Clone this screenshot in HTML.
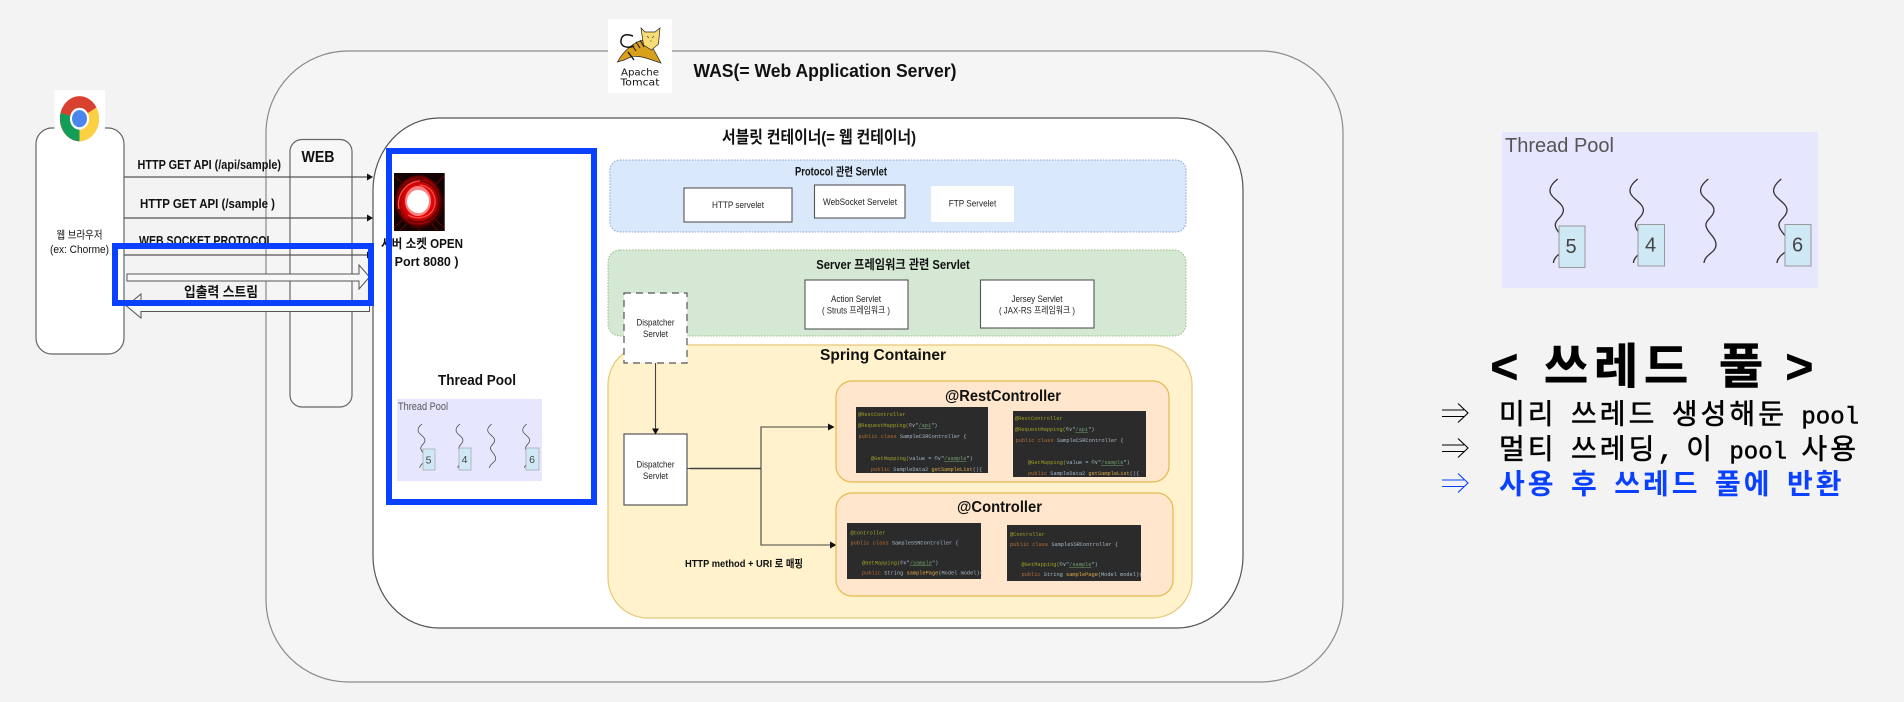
<!DOCTYPE html>
<html lang="ko">
<head>
<meta charset="utf-8">
<title>WAS Thread Pool</title>
<style>
html,body{margin:0;padding:0;background:#f3f3f3;width:1904px;height:702px;overflow:hidden}
svg{display:block;filter:blur(.3px)}
text{font-family:"Liberation Sans","Noto Sans CJK KR",sans-serif;fill:#111}
.b{font-weight:bold}
.m{text-anchor:middle}
.s{font-size:9.5px;fill:#222}
.c text{font-family:"Liberation Mono",monospace;font-size:5.3px;fill:#a9b7c6}
.c .a{fill:#a0a028}
.c .k{fill:#b86f32}
.c .g{fill:#6f9f6f;text-decoration:underline}
.c .f{fill:#e0aa45}
.ln{font-family:"Liberation Mono","Noto Sans CJK KR",monospace;font-size:28px}
.ln .p{font-size:24px;font-weight:normal;stroke-width:.5px}
</style>
</head>
<body>
<svg width="1904" height="702" viewBox="0 0 1904 702" xmlns="http://www.w3.org/2000/svg" xml:space="preserve">
<defs>
<path id="sq" d="M0 0C-5 4 -9 9 -7.3 14C-5.5 20 5.5 24 5.7 31C5.8 38 -3.5 41 -2.3 47C-1 54 8 58 7.7 66C7.4 74 -3.5 75 -4.3 84" fill="none" stroke="#333" stroke-width="1.3"/>
<radialGradient id="rg" cx="50%" cy="50%" r="50%">
<stop offset="0" stop-color="#f33"/><stop offset=".6" stop-color="#e00808"/><stop offset=".88" stop-color="#900"/><stop offset="1" stop-color="#300"/>
</radialGradient>
</defs>

<rect width="1904" height="702" fill="#f3f3f3"/>

<!-- WAS -->
<rect x="266" y="51" width="1077" height="631" rx="82" ry="82" fill="#f5f5f5" stroke="#8a8a8a" stroke-width="1.2"/>
<!-- WEB -->
<rect x="290" y="139.5" width="62" height="267.5" rx="12" fill="#f7f7f7" stroke="#666" stroke-width="1.2"/>
<text class="b m" x="318" y="162" font-size="16" textLength="33" lengthAdjust="spacingAndGlyphs">WEB</text>

<!-- browser -->
<rect x="36" y="128" width="88" height="226" rx="16" fill="#fff" stroke="#666" stroke-width="1.2"/>
<rect x="54.5" y="90" width="50.5" height="52" fill="#fff"/>
<g transform="translate(79.5 118.7) scale(.87 1)">
<path d="M0 0L-19.5 11.25A22.5 22.5 0 0 1 -19.5 -11.25A22.5 22.5 0 0 1 19.5 -11.25Z" fill="#d8402f"/>
<path d="M0 0L-19.5 -11.25A22.5 22.5 0 0 0 0 22.5Z" fill="#d8402f"/>
<path d="M0 0L-21.5 -6A22.5 22.5 0 0 0 2 22.4Z" fill="#139d58"/>
<path d="M0 0L19.5 -11.25A22.5 22.5 0 0 1 0 22.5Z" fill="#fdcf42"/>
<circle r="11" fill="#fff"/>
<circle r="8.6" fill="#4a86ee"/>
</g>
<text class="m" x="79.5" y="238.5" font-size="11" textLength="46" lengthAdjust="spacingAndGlyphs">웹 브라우저</text>
<text class="m" x="79.5" y="253" font-size="11" textLength="59" lengthAdjust="spacingAndGlyphs">(ex: Chorme)</text>

<!-- Servlet container -->
<rect x="373" y="118" width="870" height="510" rx="66" ry="72" fill="#fff" stroke="#555" stroke-width="1.2"/>

<!-- protocol arrows -->
<g stroke="#555" stroke-width="1.2">
<line x1="124" y1="177" x2="368" y2="177"/>
<line x1="124" y1="218" x2="368" y2="218"/>
<line x1="124" y1="255" x2="368" y2="255"/>
</g>
<path d="M367 173.5L373 177L367 180.5Z" fill="#111"/>
<path d="M367 214.5L373 218L367 221.5Z" fill="#111"/>
<path d="M367 251.5L373 255L367 258.5Z" fill="#111"/>
<text class="b" x="137.5" y="169" font-size="12.5" textLength="143.5" lengthAdjust="spacingAndGlyphs">HTTP GET API (/api/sample)</text>
<text class="b" x="140" y="208" font-size="12.5" textLength="135" lengthAdjust="spacingAndGlyphs">HTTP GET API (/sample )</text>
<text class="b" x="139" y="245" font-size="12.5" textLength="134" lengthAdjust="spacingAndGlyphs">WEB SOCKET PROTOCOL</text>
<path d="M127 274H359V265L369.5 277L359 289V281H127Z" fill="#f8f8f8" stroke="#555" stroke-width="1"/>
<path d="M369.5 302V311.5H141V318L126.5 306L141 294V302Z" fill="#f8f8f8" stroke="#555" stroke-width="1"/>
<text class="b m" x="221" y="297" font-size="14" textLength="74" lengthAdjust="spacingAndGlyphs">입출력 스트림</text>

<!-- swirl -->
<rect x="394" y="173" width="50.7" height="58" fill="#150303"/>
<g stroke="#5a0808" stroke-width="1" fill="none">
<path d="M394 176L406 186M444 176L434 186M394 228L406 216M444 228L432 216M419 231V226M400 231L408 222M438 231L430 222"/>
</g>
<ellipse cx="418.500" cy="201" rx="23.500" ry="26" fill="url(#rg)"/>
<g fill="none" stroke="#4a0000" stroke-width="1.100">
<path d="M418 181C437 181 442 200 437 211C431 222 417 225 408 219"/>
<path d="M401 214C392 198 403 177 424 179"/>
<path d="M410 226C429 233 446 216 443 196"/>
</g>
<g fill="none" stroke="#ff4a4a" stroke-width="1.300">
<path d="M420 185C434 187 438 200 433 210C428 218 417 220 408 215"/>
<path d="M399 209C396 195 406 182 420 181"/>
</g>
<ellipse cx="418" cy="201" rx="13" ry="15" fill="#f99" opacity=".85"/>
<path d="M410 194C414 188 425 189 428 196C431 203 427 212 420 213C413 214 407 208 407 202C407 199 408 196 410 194Z" fill="#fff"/>
<text class="b" x="381" y="248" font-size="12.5" textLength="82" lengthAdjust="spacingAndGlyphs">서버 소켓 OPEN</text>
<text class="b" x="387" y="266" font-size="12.5" textLength="71.5" lengthAdjust="spacingAndGlyphs">( Port 8080 )</text>

<!-- tomcat -->
<rect x="608" y="19" width="64" height="74" fill="#fff"/>
<g>
<path d="M617.500 62C622 53 630 46 637 42L648 39L655 52L661 63L646 58C639 56 632 56 631 57L624 60Z" fill="#d9a01c" stroke="#222" stroke-width=".7"/>
<path d="M641 28L645 32H655L660 28L658.500 44L651.500 50L643.500 45Z" fill="#f8dc75" stroke="#222" stroke-width=".7"/>
<path d="M634 46C626 49 620 46 621 40C622 34 627 34 633 36" fill="none" stroke="#111" stroke-width="1.500"/>
<path d="M628 52L634 60" stroke="#111" stroke-width="1.400"/>
<path d="M636 42L640 48M640 40L644 47M632 45L636 51" stroke="#222" stroke-width="1.100"/>
<path d="M647 36L649 38M654 36L652 38M650 41H651.500" stroke="#555" stroke-width=".8"/>
<text class="m" x="640" y="75.500" font-size="10" textLength="38" lengthAdjust="spacingAndGlyphs" style="font-family:'DejaVu Sans',sans-serif">Apache</text>
<text class="m" x="640" y="85.500" font-size="10" textLength="39" lengthAdjust="spacingAndGlyphs" style="font-family:'DejaVu Sans',sans-serif">Tomcat</text>
</g>
<text class="b" x="693.5" y="77" font-size="18" textLength="263" lengthAdjust="spacingAndGlyphs">WAS(= Web Application Server)</text>
<text class="b" x="722" y="143" font-size="17" textLength="194" lengthAdjust="spacingAndGlyphs">서블릿 컨테이너(= 웹 컨테이너)</text>

<!-- Protocol -->
<rect x="610" y="160" width="576" height="72" rx="10" fill="#dae8fc" stroke="#86a3cf" stroke-width="1" stroke-dasharray="1.5 1.5"/>
<text class="b m" x="841" y="175.500" font-size="11.500" textLength="92" lengthAdjust="spacingAndGlyphs">Protocol 관련 Servlet</text>
<rect x="684" y="188" width="108" height="34" fill="#fff" stroke="#555" stroke-width="1.1"/>
<text class="s m" x="738" y="208" textLength="52" lengthAdjust="spacingAndGlyphs">HTTP servelet</text>
<rect x="814.500" y="185" width="90.500" height="33" fill="#fff" stroke="#555" stroke-width="1.1"/>
<text class="s m" x="860" y="205" textLength="74" lengthAdjust="spacingAndGlyphs">WebSocket Servelet</text>
<rect x="931" y="186" width="83" height="36" fill="#fff"/>
<text class="s m" x="972.500" y="206.500" textLength="47.500" lengthAdjust="spacingAndGlyphs">FTP Servelet</text>

<!-- Server -->
<rect x="608" y="250" width="578" height="86" rx="12" fill="#d5e8d4" stroke="#94bd7b" stroke-width="1" stroke-dasharray="1.5 1.5"/>
<text class="b m" x="893" y="269" font-size="13" textLength="153.500" lengthAdjust="spacingAndGlyphs">Server 프레임워크 관련 Servlet</text>
<rect x="805" y="280" width="103" height="49" fill="#fff" stroke="#555" stroke-width="1.1"/>
<text class="s m" x="856" y="302" textLength="50" lengthAdjust="spacingAndGlyphs">Action Servlet</text>
<text class="s m" x="856" y="313.500" textLength="68" lengthAdjust="spacingAndGlyphs">( Struts 프레임워크 )</text>
<rect x="980.500" y="280" width="113.500" height="48" fill="#fff" stroke="#555" stroke-width="1.1"/>
<text class="s m" x="1037" y="302" textLength="51" lengthAdjust="spacingAndGlyphs">Jersey Servlet</text>
<text class="s m" x="1037" y="313.500" textLength="76" lengthAdjust="spacingAndGlyphs">( JAX-RS 프레임워크 )</text>

<!-- Spring -->
<rect x="608" y="345" width="584" height="273" rx="40" fill="#fff2cc" stroke="#e6c878" stroke-width="1.2"/>
<text class="b m" x="883" y="360" font-size="16" textLength="126" lengthAdjust="spacingAndGlyphs">Spring Container</text>

<rect x="624" y="293" width="63" height="70" fill="#fff" stroke="#555" stroke-width="1.200" stroke-dasharray="7 5"/>
<text class="s m" x="655.500" y="325.500" textLength="38" lengthAdjust="spacingAndGlyphs">Dispatcher</text>
<text class="s m" x="655.500" y="337" textLength="25" lengthAdjust="spacingAndGlyphs">Servlet</text>

<rect x="624" y="434" width="63" height="71" fill="#fff" stroke="#555" stroke-width="1.200"/>
<text class="s m" x="655.500" y="467.500" textLength="38" lengthAdjust="spacingAndGlyphs">Dispatcher</text>
<text class="s m" x="655.500" y="479" textLength="25" lengthAdjust="spacingAndGlyphs">Servlet</text>

<g fill="none" stroke="#444" stroke-width="1.100">
<line x1="655.500" y1="363" x2="655.500" y2="430"/>
<path d="M687 468.500H761"/>
<path d="M690 468.500H761" stroke-width="1.600"/>
<path d="M829 427H761V545H831"/>
</g>
<path d="M652 428.500L655.500 434.500L659 428.500Z" fill="#111"/>
<path d="M828 423.500L834.500 427L828 430.500Z" fill="#111"/>
<path d="M830 541.500L836.500 545L830 548.500Z" fill="#111"/>
<text class="b m" x="744" y="567" font-size="10.500" textLength="118" lengthAdjust="spacingAndGlyphs">HTTP method + URI 로 매핑</text>

<!-- RestController -->
<rect x="836" y="381" width="333" height="101" rx="16" fill="#ffe6cc" stroke="#e6b94c" stroke-width="1.200"/>
<text class="b m" x="1003" y="401" font-size="16" textLength="116" lengthAdjust="spacingAndGlyphs">@RestController</text>
<g class="c">
<rect x="856" y="407" width="132" height="66" fill="#2b2b2b"/>
<text x="858" y="416" class="a">@RestController</text>
<text x="858" y="427"><tspan class="a">@RequestMapping(</tspan>©∨"<tspan class="g">/api</tspan>")</text>
<text x="858.500" y="438"><tspan class="k">public class </tspan>SampleCSRController {</text>
<text x="871" y="460"><tspan class="a">@GetMapping(</tspan>value = ©∨"<tspan class="g">/sample</tspan>")</text>
<text x="871" y="471"><tspan class="k">public </tspan>SampleData2 <tspan class="f">getSampleList</tspan>(){</text>

<rect x="1013" y="411" width="133" height="66" fill="#2b2b2b"/>
<text x="1015" y="420" class="a">@RestController</text>
<text x="1015" y="431"><tspan class="a">@RequestMapping(</tspan>©∨"<tspan class="g">/api</tspan>")</text>
<text x="1015.500" y="442"><tspan class="k">public class </tspan>SampleCSRController {</text>
<text x="1028" y="464"><tspan class="a">@GetMapping(</tspan>value = ©∨"<tspan class="g">/sample</tspan>")</text>
<text x="1028" y="475"><tspan class="k">public </tspan>SampleData2 <tspan class="f">getSampleList</tspan>(){</text>
</g>

<!-- Controller -->
<rect x="836" y="493" width="337" height="103" rx="16" fill="#ffe6cc" stroke="#e6b94c" stroke-width="1.200"/>
<text class="b m" x="999.500" y="512" font-size="16" textLength="85" lengthAdjust="spacingAndGlyphs">@Controller</text>
<g class="c">
<rect x="847" y="523" width="134" height="56" fill="#2b2b2b"/>
<text x="850.500" y="534.500" class="a">@Controller</text>
<text x="850.500" y="544.500"><tspan class="k">public class </tspan>SampleSSRController {</text>
<text x="862" y="564.500"><tspan class="a">@GetMapping(</tspan>©∨"<tspan class="g">/sample</tspan>")</text>
<text x="862" y="574.500"><tspan class="k">public </tspan>String <tspan class="f">samplePage</tspan>(Model model){</text>

<rect x="1007" y="525" width="134" height="56" fill="#2b2b2b"/>
<text x="1010" y="536" class="a">@Controller</text>
<text x="1010" y="546"><tspan class="k">public class </tspan>SampleSSRController {</text>
<text x="1021.500" y="566"><tspan class="a">@GetMapping(</tspan>©∨"<tspan class="g">/sample</tspan>")</text>
<text x="1021.500" y="576"><tspan class="k">public </tspan>String <tspan class="f">samplePage</tspan>(Model model){</text>
</g>

<!-- Thread pool in box -->
<text class="b m" x="477" y="385" font-size="14.500" textLength="78" lengthAdjust="spacingAndGlyphs">Thread Pool</text>
<rect x="397" y="399" width="145" height="82" fill="#e6e6ff"/>
<text x="398" y="410" font-size="11" textLength="50" lengthAdjust="spacingAndGlyphs" style="fill:#555">Thread Pool</text>
<g transform="translate(422 424) scale(.524)"><use href="#sq"/></g>
<g transform="translate(460 424) scale(.524)"><use href="#sq"/></g>
<g transform="translate(491.700 424) scale(.524)"><use href="#sq"/></g>
<g transform="translate(526.700 424) scale(.524)"><use href="#sq"/></g>
<g fill="#cfe8f5" stroke="#aaa" stroke-width=".8">
<rect x="423" y="449" width="12" height="21"/>
<rect x="459" y="448" width="12" height="22"/>
<rect x="526" y="448" width="13" height="22"/>
</g>
<g font-size="10.500">
<text class="m" x="428.500" y="463.500" style="fill:#444">5</text>
<text class="m" x="464.500" y="463" style="fill:#444">4</text>
<text class="m" x="532" y="463" style="fill:#444">6</text>
</g>

<!-- Blue highlights -->
<rect x="389" y="151" width="205" height="351" fill="none" stroke="#0a40ff" stroke-width="6"/>
<rect x="115" y="246" width="256" height="57" fill="none" stroke="#0a40ff" stroke-width="6"/>

<!-- Right pool -->
<rect x="1502" y="132" width="316" height="156" fill="#e6e6ff"/>
<text x="1505" y="152" font-size="20" textLength="109" lengthAdjust="spacingAndGlyphs" style="fill:#555">Thread Pool</text>
<use href="#sq" x="1557.700" y="179"/>
<use href="#sq" x="1637.700" y="179"/>
<use href="#sq" x="1708.300" y="179"/>
<use href="#sq" x="1781.300" y="179"/>
<g fill="#cfe8f5" stroke="#999" stroke-width="1">
<rect x="1559" y="226" width="26" height="41.500"/>
<rect x="1638" y="224.500" width="26.500" height="41.500"/>
<rect x="1785" y="224.500" width="26" height="41.500"/>
</g>
<g font-size="20">
<text class="m" x="1571" y="253" style="fill:#444">5</text>
<text class="m" x="1650.500" y="251.500" style="fill:#444">4</text>
<text class="m" x="1797.500" y="251.500" style="fill:#444">6</text>
</g>

<!-- Heading -->
<text y="383" font-size="48" style="font-family:'Liberation Mono','Noto Sans CJK KR',monospace;fill:#000;font-weight:bold;stroke:#000;stroke-width:.6" x="1490 1518 1544 1594 1644 1694 1719 1769 1785">&lt; 쓰레드 풀 &gt;</text>

<!-- Bullet arrows -->
<g fill="none" stroke="#000" stroke-width="1.100">
<path d="M1442 410H1464M1442 416.500H1464M1458 403.500L1468 413L1458 422.500"/>
<path d="M1442 445H1464M1442 451.500H1464M1458 438.500L1468 448L1458 457.500"/>
<path d="M1442 480H1464M1442 486.500H1464M1458 473.500L1468 483L1458 492.500" stroke="#0a40ff"/>
</g>

<text class="ln" y="423.500" style="fill:#000;stroke:#000;stroke-width:.55px" transform="translate(-1 0)" x="1500 1528.800 1557.600 1572 1600.800 1629.600 1658.400 1672.800 1701.600 1730.400 1759.200 1788 1802.400 1816.800 1831.200 1845.600">미리 쓰레드 생성해둔 <tspan class="p">pool</tspan></text>
<text class="ln" y="458.500" style="fill:#000;stroke:#000;stroke-width:.55px" transform="translate(-1 0)" x="1500 1528.800 1557.600 1572 1600.800 1629.600 1658.400 1672.800 1687.200 1716 1730.400 1744.800 1759.200 1773.600 1788 1802.400 1831.200">멀티 쓰레딩, 이 <tspan class="p">pool</tspan> 사용</text>
<text class="ln" y="493.500" style="fill:#0a40ff;font-weight:bold" transform="translate(-1 0)" x="1500 1528.800 1557.600 1572 1600.800 1615.200 1644 1672.800 1701.600 1716 1744.800 1773.600 1788 1816.800">사용 후 쓰레드 풀에 반환</text>
</svg>
</body>
</html>
